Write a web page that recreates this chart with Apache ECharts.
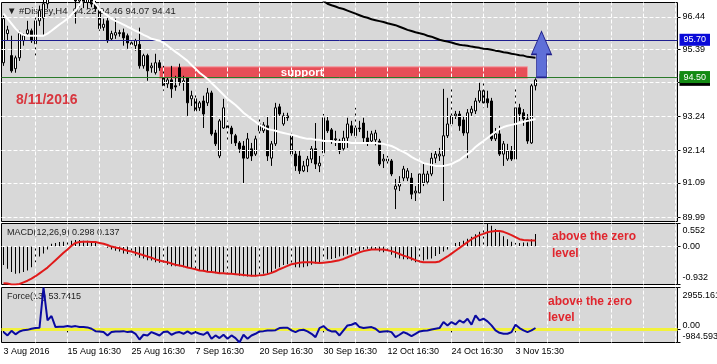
<!DOCTYPE html>
<html><head><meta charset="utf-8">
<script src="https://cdn.jsdelivr.net/npm/echarts@6/dist/echarts.min.js"></script>
<style>html,body{margin:0;padding:0;background:#fff}#c{width:717px;height:364px}</style>
</head><body><div id="c"></div>
<script>
// ---------- data ----------
const tickLabels = ['3 Aug 2016','15 Aug 16:30','25 Aug 16:30','7 Sep 16:30','20 Sep 16:30','30 Sep 16:30','12 Oct 16:30','24 Oct 16:30','3 Nov 15:30'];
const tickBars = [0,16,32,48,64,80,96,112,128];
const slotCount = 169;

const opens = [94.96,95.90,95.19,94.77,95.12,95.67,95.90,95.99,95.57,96.31,
96.40,96.86,97.20,97.40,97.30,97.50,97.40,97.20,97.10,96.95,
97.05,96.90,97.00,96.85,96.64,96.10,96.31,95.73,95.85,95.93,
95.93,95.83,95.60,95.51,95.55,94.86,95.19,94.80,94.64,94.96,
94.48,94.28,94.41,94.22,94.80,94.32,94.48,93.80,93.80,93.51,
93.73,93.67,93.99,92.70,91.96,92.86,92.93,92.86,92.61,92.38,
92.28,91.89,92.19,92.02,92.77,92.77,92.93,91.89,92.35,93.54,
92.99,93.25,92.61,92.02,91.96,91.48,91.64,91.86,92.19,91.64,
92.06,93.09,92.80,92.51,92.44,92.19,92.54,92.93,92.61,92.86,
93.02,92.54,92.44,92.48,92.44,91.80,91.86,91.80,90.89,90.99,
91.25,91.25,91.25,90.77,90.77,91.09,91.12,91.38,91.89,91.96,
91.96,92.61,92.99,93.25,93.31,93.12,92.70,93.35,93.41,93.73,
94.06,93.80,93.73,92.51,92.67,92.02,91.86,92.12,91.86,93.51,
93.35,93.15,92.38,94.22];
const closes = [96.38,96.02,94.70,95.12,95.90,95.83,96.02,95.67,96.31,96.64,
96.86,97.20,97.40,97.30,97.50,97.40,97.20,97.10,96.95,97.05,
96.90,97.00,96.85,96.70,96.06,96.20,95.67,95.90,95.93,95.90,
95.76,95.60,95.55,95.67,94.86,95.19,94.70,94.86,94.96,94.80,
94.22,94.41,94.12,94.18,94.32,94.38,93.67,93.90,93.41,93.67,
93.31,93.99,92.67,92.35,93.09,93.51,92.86,92.67,92.38,92.19,
91.89,92.51,91.96,92.51,92.99,92.96,91.96,92.35,93.51,93.31,
93.25,93.19,92.02,91.64,91.48,91.64,91.86,92.19,91.70,91.73,
93.19,92.77,92.44,92.48,92.12,92.54,92.99,92.70,92.86,92.83,
92.54,92.38,92.67,92.70,91.70,91.86,91.80,91.38,90.99,91.09,
91.54,91.48,90.73,90.83,91.38,91.38,91.38,91.89,92.02,92.02,
92.61,92.99,93.25,93.31,92.93,92.70,93.35,93.47,93.73,94.06,
93.67,93.67,92.51,92.67,92.02,92.35,92.12,91.86,93.51,93.31,
93.15,92.44,94.22,94.41];
const lows = [94.86,95.67,94.64,94.64,95.02,95.51,95.83,95.60,95.19,96.15,
95.83,96.70,97.10,97.20,97.20,97.30,97.10,97.00,96.22,96.75,
96.72,96.70,96.75,96.60,95.99,95.99,95.60,95.67,95.73,95.80,
95.51,95.41,95.45,95.35,94.77,94.77,94.38,94.64,94.58,94.70,
94.06,94.15,93.83,94.06,94.22,94.06,93.25,93.57,93.35,93.41,
92.86,93.57,92.61,92.28,91.89,92.83,92.44,92.35,92.28,92.06,
91.09,91.86,91.80,91.96,92.67,92.70,91.80,91.64,92.28,93.25,
92.93,93.09,91.96,91.48,91.38,91.44,91.44,91.73,91.54,91.44,
91.96,92.70,92.35,92.28,92.02,92.12,92.22,92.61,92.54,92.73,
92.38,92.28,92.35,92.30,91.64,91.57,91.70,91.31,90.25,90.83,
91.15,91.15,90.57,90.51,90.73,90.99,91.05,91.31,91.73,91.80,
90.51,92.54,92.93,93.15,92.77,92.61,91.89,93.25,93.31,93.67,
93.51,93.51,92.44,92.44,91.96,91.64,91.80,91.80,91.80,93.09,
92.93,92.35,92.35,94.07];
const highs = [96.48,96.15,95.83,95.19,95.99,95.90,96.31,96.06,96.48,96.80,
97.10,97.30,97.50,97.60,97.70,97.60,97.50,97.30,97.20,97.10,
97.10,97.10,97.05,96.95,96.75,96.38,96.40,95.99,96.38,96.02,
96.06,95.90,95.70,95.73,96.09,95.25,95.25,94.96,95.25,95.05,
94.86,94.50,94.86,94.54,94.93,94.54,94.50,94.06,93.95,93.73,
93.90,94.15,94.06,92.80,93.15,93.80,93.09,92.93,92.67,92.44,
92.44,92.70,92.38,92.61,93.19,93.05,93.25,92.44,93.67,93.64,
93.35,93.35,92.70,92.12,92.12,91.80,91.96,92.28,93.02,91.96,
93.31,93.25,92.86,92.77,92.51,92.77,93.19,93.09,93.51,93.09,
93.19,92.77,92.77,92.80,92.51,92.02,91.96,91.86,91.22,91.31,
91.64,91.57,91.41,90.99,91.48,91.70,91.48,92.06,92.12,92.22,
94.12,93.83,94.12,93.41,93.41,93.22,93.47,93.57,93.83,94.32,
94.32,94.06,93.83,92.86,92.93,92.44,92.35,92.28,94.12,93.64,
93.47,93.31,94.28,94.46];

const maWhite = [96.54,96.38,96.22,96.06,95.93,95.86,95.83,95.83,95.83,95.83,
95.83,95.90,95.99,96.09,96.19,96.28,96.38,96.51,96.64,96.83,
96.98,97.03,96.98,96.85,96.70,96.57,96.48,96.38,96.31,96.25,
96.19,96.12,96.06,95.99,95.93,95.86,95.80,95.73,95.70,95.67,
95.60,95.51,95.41,95.31,95.22,95.12,95.02,94.89,94.77,94.64,
94.54,94.44,94.31,94.19,94.06,93.93,93.80,93.70,93.60,93.48,
93.35,93.25,93.15,93.06,92.96,92.89,92.83,92.80,92.77,92.73,
92.70,92.67,92.64,92.61,92.57,92.54,92.51,92.51,92.48,92.48,
92.44,92.44,92.44,92.41,92.41,92.41,92.41,92.38,92.38,92.38,
92.38,92.38,92.38,92.38,92.35,92.35,92.31,92.28,92.22,92.15,
92.09,92.02,91.93,91.86,91.80,91.73,91.70,91.67,91.64,91.64,
91.64,91.67,91.70,91.77,91.83,91.93,92.02,92.12,92.25,92.35,
92.44,92.54,92.64,92.73,92.83,92.89,92.93,92.96,92.99,93.02,
93.06,93.09,93.12,93.15];
const maBlackStart = 79;
const maBlackValues = [97.05,96.95,96.86,96.81,96.77,96.72,96.69,96.64,96.59,96.54,
96.49,96.44,96.41,96.36,96.33,96.30,96.27,96.23,96.20,96.17,
96.12,96.07,96.02,95.98,95.94,95.91,95.88,95.83,95.80,95.75,
95.70,95.67,95.64,95.61,95.57,95.54,95.52,95.51,95.48,95.46,
95.44,95.41,95.40,95.38,95.35,95.33,95.30,95.28,95.25,95.23,
95.20,95.19,95.15,95.14,95.12];

const macdMain = [-0.46,-0.55,-0.63,-0.67,-0.66,-0.63,-0.59,-0.51,-0.39,-0.25,
-0.18,-0.08,0.06,0.08,0.10,0.11,0.13,0.13,0.15,0.15,
0.13,0.13,0.11,0.08,0.03,-0.01,-0.04,-0.08,-0.11,-0.13,
-0.18,-0.19,-0.21,-0.23,-0.28,-0.30,-0.34,-0.35,-0.39,-0.40,
-0.42,-0.45,-0.49,-0.49,-0.49,-0.51,-0.53,-0.55,-0.58,-0.59,
-0.61,-0.61,-0.63,-0.66,-0.66,-0.64,-0.65,-0.67,-0.69,-0.72,
-0.73,-0.74,-0.73,-0.73,-0.70,-0.67,-0.67,-0.63,-0.55,-0.51,
-0.46,-0.44,-0.46,-0.51,-0.52,-0.51,-0.49,-0.45,-0.42,-0.41,
-0.35,-0.32,-0.31,-0.29,-0.25,-0.23,-0.20,-0.18,-0.15,-0.13,
-0.08,-0.06,-0.08,-0.09,-0.13,-0.15,-0.19,-0.21,-0.28,-0.30,
-0.32,-0.32,-0.35,-0.39,-0.39,-0.35,-0.32,-0.30,-0.24,-0.19,
-0.13,-0.08,0.01,0.08,0.10,0.13,0.18,0.23,0.29,0.35,
0.47,0.552,0.50,0.42,0.34,0.24,0.17,0.11,0.08,0.08,
0.09,0.09,0.17,0.298];
const macdSignal = [-0.90,-0.91,-0.93,-0.93,-0.92,-0.88,-0.84,-0.79,-0.73,-0.66,
-0.59,-0.52,-0.43,-0.34,-0.25,-0.16,-0.08,0.01,0.08,0.10,
0.11,0.11,0.10,0.10,0.08,0.06,0.03,-0.01,-0.03,-0.05,
-0.08,-0.11,-0.13,-0.16,-0.19,-0.22,-0.25,-0.28,-0.32,-0.35,
-0.37,-0.39,-0.42,-0.45,-0.47,-0.49,-0.52,-0.54,-0.56,-0.59,
-0.60,-0.62,-0.63,-0.64,-0.66,-0.66,-0.67,-0.67,-0.68,-0.69,
-0.70,-0.71,-0.72,-0.72,-0.71,-0.70,-0.68,-0.65,-0.61,-0.56,
-0.52,-0.48,-0.44,-0.42,-0.40,-0.39,-0.39,-0.39,-0.40,-0.41,
-0.40,-0.39,-0.38,-0.36,-0.34,-0.31,-0.27,-0.23,-0.19,-0.15,
-0.12,-0.10,-0.08,-0.08,-0.08,-0.08,-0.10,-0.12,-0.15,-0.19,
-0.23,-0.26,-0.30,-0.34,-0.37,-0.39,-0.39,-0.39,-0.39,-0.37,
-0.31,-0.25,-0.18,-0.11,-0.04,0.03,0.10,0.17,0.22,0.27,
0.30,0.34,0.36,0.37,0.37,0.35,0.31,0.27,0.22,0.17,
0.15,0.145,0.14,0.137];

const force = [-240,-480,-150,-400,-200,-100,-80,0,50,72,
2955.161,602,916,120,145,145,190,145,190,120,
120,96,0,-170,-190,-240,-480,-240,-190,-190,
-170,-240,-190,-360,-770,-430,-480,-240,-360,-480,
-240,-190,-430,-290,-240,-360,-190,-360,-240,-360,
-430,-240,-720,-480,-670,-430,-720,-480,-670,-984.593,
-430,-720,-480,-360,-190,-170,-120,-120,-100,50,
72,72,-120,-240,-100,-72,-190,-360,-600,50,
190,-72,-190,-170,-480,-120,240,290,410,120,
48,96,120,0,-240,-190,-170,-240,-600,-430,
-240,-360,-530,-360,-190,-145,-120,-48,0,48,
480,240,480,310,600,430,720,290,960,600,
720,530,240,-120,-290,-360,-360,-240,290,48,
-120,-240,-120,53.7415];

const priceTicks = [89.99, 91.09, 92.14, 93.24, 94.32, 95.39, 96.44];
const hiddenPriceLabel = 94.32;
const macdTicks = [0.552, 0, -0.932];
const forceTicks = [2955.161, 0, -984.593];
const resistanceLevel = 95.70;
const supportLevel = 94.50;
const supportZone = {fromBar: 39, toBar: 131, low: 94.46, high: 94.83};
const arrowMark = {bar: 134, mid: 95.23};
const gridEvery = 8;

// ---------- chart ----------
const FONT = "'Liberation Sans', Arial, sans-serif";
const cats = Array.from({length: slotCount}, (_, i) => 'b' + i);
const candles = opens.map((o, i) => [o, closes[i], lows[i], highs[i]]);
const maBlack = cats.map((_, i) => (i >= maBlackStart && i - maBlackStart < maBlackValues.length) ? maBlackValues[i - maBlackStart] : null);
const last = closes.length - 1;
function gl() { return {color: '#ffffff', type: 'dashed', width: 1}; }
function vLines() {
  const out = [];
  for (let b = gridEvery; b < slotCount; b += gridEvery) out.push({xAxis: cats[b], lineStyle: gl()});
  return out;
}
function hLines(vals) { return vals.map(v => ({yAxis: v, lineStyle: gl()})); }

function guide(k, data, z) {
  return {
    type: 'line', xAxisIndex: k, yAxisIndex: k, data: [], z: z, silent: true,
    markLine: {symbol: ['none', 'none'], silent: true, label: {show: false}, data: data}
  };
}

function gridBox(top, height) {
  return {left: 1.5, width: 676, top: top, height: height, show: true, backgroundColor: '#d8d8d8', borderColor: '#000', borderWidth: 1, outerBoundsMode: 'none', containLabel: false};
}
const lbl = (text, bg) => ({show: true, position: 'end', distance: 2, formatter: text, color: '#fff', backgroundColor: bg, padding: [2, 4, 1, 4], fontSize: 9, fontFamily: FONT});

const option = {
  animation: false,
  backgroundColor: '#ffffff',
  grid: [gridBox(2.5, 219), gridBox(223.5, 61), gridBox(287.5, 55)],
  xAxis: [0, 1, 2].map(k => ({
    type: 'category', gridIndex: k, data: cats, boundaryGap: true,
    axisLine: {show: false}, splitLine: {show: false},
    axisTick: {show: k === 2, alignWithLabel: true, interval: (i) => tickBars.includes(i), length: 4, lineStyle: {color: '#000'}},
    axisLabel: {show: k === 2, interval: (i) => tickBars.includes(i), formatter: (v, i) => tickLabels[tickBars.indexOf(i)] || '',
      align: 'left', margin: 5, fontSize: 9, fontFamily: FONT, color: '#000'}
  })),
  yAxis: [
    {gridIndex: 0, position: 'right', min: 89.85, max: 96.90, axisLine: {show: false}, splitLine: {show: false},
      axisTick: {show: true, customValues: priceTicks, length: 3, lineStyle: {color: '#000'}},
      axisLabel: {customValues: priceTicks.filter(v => v !== hiddenPriceLabel), formatter: v => v.toFixed(2), fontSize: 9, fontFamily: FONT, color: '#000', margin: 5}},
    {gridIndex: 1, position: 'right', min: macdTicks[2], max: macdTicks[0], axisLine: {show: false}, splitLine: {show: false},
      axisTick: {show: true, customValues: macdTicks, length: 3, lineStyle: {color: '#000'}},
      axisLabel: {customValues: macdTicks, fontSize: 9, fontFamily: FONT, color: '#000', margin: 5,
        formatter: v => v > 0 ? '{dn|' + v.toFixed(3) + '}' : (v < 0 ? '{up|' + v.toFixed(3) + '}' : '0.00'),
        rich: {dn: {padding: [14, 0, 0, 0], fontSize: 9, fontFamily: FONT, color: '#000'}, up: {padding: [0, 0, 14, 0], fontSize: 9, fontFamily: FONT, color: '#000'}}}},
    {gridIndex: 2, position: 'right', min: forceTicks[2], max: forceTicks[0], axisLine: {show: false}, splitLine: {show: false},
      axisTick: {show: true, customValues: forceTicks, length: 3, lineStyle: {color: '#000'}},
      axisLabel: {customValues: forceTicks, fontSize: 9, fontFamily: FONT, color: '#000', margin: 5,
        formatter: v => v > 0 ? '{dn|' + v.toFixed(3) + '}' : (v < 0 ? '{up2|' + v.toFixed(3) + '}' : '{up|0.00}'),
        rich: {dn: {padding: [16, 0, 0, 0], fontSize: 9, fontFamily: FONT, color: '#000'},
               up: {padding: [0, 0, 6, 0], fontSize: 9, fontFamily: FONT, color: '#000'},
               up2: {padding: [0, 0, 12, 0], fontSize: 9, fontFamily: FONT, color: '#000'}}}}
  ],
  graphic: [
    {type: 'text', left: 7, top: 6, z: 1, style: {text: '\u25BC #Disney,H4  ' + [opens[last], highs[last], lows[last], closes[last]].map(v => v.toFixed(2)).join(' '), fontSize: 9.5, fontFamily: FONT, fill: '#222'}},
    {type: 'text', left: 16, top: 93, z: 1, style: {text: '8/11/2016', fontSize: 14, fontWeight: 'bold', fontFamily: FONT, fill: '#d8363e'}},
    {type: 'text', left: 7, top: 228, z: 1, style: {text: 'MACD(12,26,9) ' + macdMain[last].toFixed(3) + ' ' + macdSignal[last].toFixed(3), fontSize: 9, fontFamily: FONT, fill: '#222'}},
    {type: 'text', left: 7, top: 292, z: 1, style: {text: 'Force(13) ' + force[last].toFixed(4), fontSize: 9, fontFamily: FONT, fill: '#222'}},
    {type: 'text', left: 552, top: 228, z: 1, style: {text: 'above the zero\nlevel', fontSize: 12, lineHeight: 17, fontWeight: 'bold', fontFamily: FONT, fill: '#e0262e'}},
    {type: 'text', left: 548, top: 294, z: 1, style: {text: 'above the zero\nlevel', fontSize: 12, lineHeight: 16, fontWeight: 'bold', fontFamily: FONT, fill: '#e0262e'}}
  ],
  series: [
    guide(0, hLines(priceTicks).concat(vLines()), 3),
    {type: 'candlestick', xAxisIndex: 0, yAxisIndex: 0, data: candles, barWidth: 3, z: 4, clip: true,
      itemStyle: {color: '#ffffff', color0: '#000000', borderColor: '#000000', borderColor0: '#000000', borderWidth: 1}},
    {type: 'line', xAxisIndex: 0, yAxisIndex: 0, data: maWhite, symbol: 'none', z: 5, clip: true, lineStyle: {color: '#ffffff', width: 2}},
    {type: 'line', xAxisIndex: 0, yAxisIndex: 0, data: maBlack, symbol: 'none', z: 5, clip: true, lineStyle: {color: '#000000', width: 2}},
    guide(0, [
      {yAxis: resistanceLevel, lineStyle: {color: '#1e1e90', type: 'solid', width: 1}, label: lbl(resistanceLevel.toFixed(2), '#0a0ad8')},
      {yAxis: closes[last], lineStyle: {color: 'rgba(0,0,0,0)', type: 'solid', width: 1}, label: lbl(closes[last].toFixed(2), '#000000')},
      {yAxis: supportLevel, lineStyle: {color: '#2a7a2a', type: 'solid', width: 1}, label: lbl(supportLevel.toFixed(2), '#138a13')}
    ], 6),
    {type: 'line', xAxisIndex: 0, yAxisIndex: 0, data: [], z: 7, silent: true,
      markArea: {silent: true, itemStyle: {color: 'rgba(232,58,68,0.88)', borderColor: '#f49aa0', borderWidth: 1},
        label: {show: true, position: ['33%', '50%'], align: 'left', verticalAlign: 'middle', color: '#fff', fontWeight: 'bold', fontSize: 11.5, fontFamily: FONT, formatter: 'support'},
        data: [[{xAxis: cats[supportZone.fromBar], yAxis: supportZone.high}, {xAxis: cats[supportZone.toBar], yAxis: supportZone.low}]]},
      markPoint: {silent: true, data: [{coord: [cats[arrowMark.bar], arrowMark.mid], symbol: 'path://M10,0 L20,23 L15,23 L15,46 L5,46 L5,23 L0,23 Z',
        symbolSize: [20, 46], symbolOffset: [2, 0], symbolKeepAspect: false, label: {show: false},
        itemStyle: {color: '#5f6fd8', borderColor: '#20208a', borderWidth: 1}}]}},
    guide(1, hLines([0]).concat(vLines()), 3),
    {type: 'bar', xAxisIndex: 1, yAxisIndex: 1, data: macdMain, barWidth: 1, z: 4, itemStyle: {color: '#000'}},
    {type: 'line', xAxisIndex: 1, yAxisIndex: 1, data: macdSignal, symbol: 'none', z: 5, lineStyle: {color: '#e01a1a', width: 2}},
    guide(2, vLines(), 3),
    guide(2, [{yAxis: 0, lineStyle: {color: '#f2f23a', type: 'solid', width: 3}}], 4),
    {type: 'line', xAxisIndex: 2, yAxisIndex: 2, data: force, symbol: 'none', z: 5, clip: true, lineStyle: {color: '#0a0aa0', width: 2}}
  ]
};
const chart = echarts.init(document.getElementById('c'), null, {renderer: 'canvas'});
chart.setOption(option);
</script>
</body></html>
